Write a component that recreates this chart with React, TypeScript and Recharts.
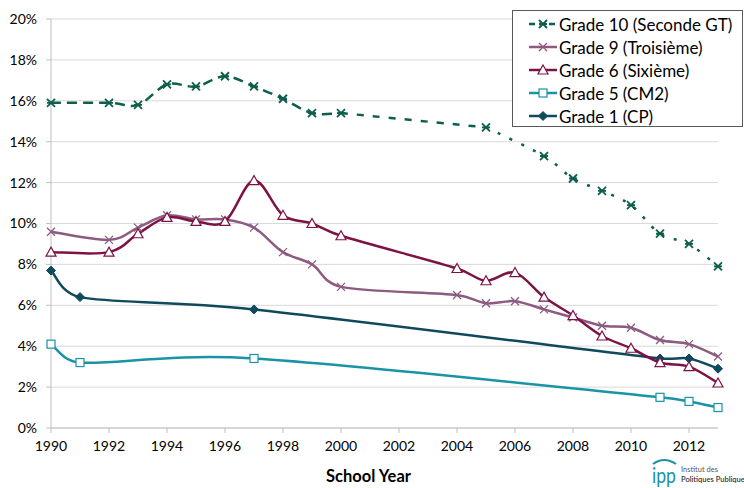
import React from "react";
import { LineChart, Line, XAxis, YAxis, CartesianGrid } from "recharts";

const years = [
  1990, 1991, 1992, 1993, 1994, 1995, 1996, 1997, 1998, 1999, 2000, 2001,
  2002, 2003, 2004, 2005, 2006, 2007, 2008, 2009, 2010, 2011, 2012, 2013,
];
const N = null;
const grade10 = [15.9, N, 15.9, 15.8, 16.8, 16.7, 17.2, 16.7, 16.1, 15.4, 15.4, N, N, N, N, 14.7, N, 13.3, 12.2, 11.6, 10.9, 9.5, 9.0, 7.9];
const grade9 = [9.6, N, 9.2, 9.8, 10.4, 10.2, 10.2, 9.8, 8.6, 8.0, 6.9, N, N, N, 6.5, 6.1, 6.2, 5.8, 5.4, 5.0, 4.9, 4.3, 4.1, 3.5];
const grade6 = [8.6, N, 8.6, 9.5, 10.3, 10.1, 10.1, 12.1, 10.4, 10.0, 9.4, N, N, N, 7.8, 7.2, 7.6, 6.4, 5.5, 4.5, 3.9, 3.2, 3.0, 2.2];
const grade5 = [4.1, 3.2, N, N, N, N, N, 3.4, N, N, N, N, N, N, N, N, N, N, N, N, N, 1.5, 1.3, 1.0];
const grade1 = [7.7, 6.4, N, N, N, N, N, 5.8, N, N, N, N, N, N, N, N, N, N, N, N, N, 3.4, 3.4, 2.9];

const xTicks = [1990, 1992, 1994, 1996, 1998, 2000, 2002, 2004, 2006, 2008, 2010, 2012];
const yTicks = [0, 2, 4, 6, 8, 10, 12, 14, 16, 18, 20];

const data = years.map((year, i) => ({
  year,
  g10a: year <= 2000 ? grade10[i] : null,
  g10b: year === 2000 || year === 2005 ? grade10[i] : null,
  g10c: year >= 2005 ? grade10[i] : null,
  g9: grade9[i],
  g6: grade6[i],
  g5: grade5[i],
  g1: grade1[i],
}));

const C10 = "#0d5e4c";
const C9 = "#8c5b7f";
const C6 = "#7d1244";
const C5 = "#1a93a5";
const C1 = "#0f4a5c";

const FONT = "Lato, 'Open Sans', sans-serif";

// excel-like smoothing: catmull-rom bezier with control arms capped at half the segment
const excelCurve = (ctx: any) => {
  let pts: number[][] = [];
  return {
    areaStart() {},
    areaEnd() {},
    lineStart() { pts = []; },
    point(x: number, y: number) { pts.push([+x, +y]); },
    lineEnd() {
      const n = pts.length;
      if (!n) return;
      ctx.moveTo(pts[0][0], pts[0][1]);
      if (n === 1) return;
      const tan = pts.map((p, i) => {
        const a = pts[Math.max(0, i - 1)];
        const b = pts[Math.min(n - 1, i + 1)];
        return [(b[0] - a[0]) / 6, (b[1] - a[1]) / 6];
      });
      const cap = (t: number[], len: number) => {
        const l = Math.hypot(t[0], t[1]);
        const m = len / 2;
        return l > m && l > 0 ? [(t[0] * m) / l, (t[1] * m) / l] : t;
      };
      for (let i = 0; i < n - 1; i++) {
        const p1 = pts[i], p2 = pts[i + 1];
        const seg = Math.hypot(p2[0] - p1[0], p2[1] - p1[1]);
        const t1 = cap(tan[i], seg);
        const t2 = cap(tan[i + 1], seg);
        ctx.bezierCurveTo(p1[0] + t1[0], p1[1] + t1[1], p2[0] - t2[0], p2[1] - t2[1], p2[0], p2[1]);
      }
    },
  };
};

type Shape = "star" | "x" | "tri" | "sq" | "dia";

function Marker({ shape, color, x, y }: { shape: Shape; color: string; x: number; y: number }) {
  const s = 4;
  if (shape === "star")
    return (
      <path
        d={`M${x - s},${y - s}L${x + s},${y + s}M${x - s},${y + s}L${x + s},${y - s}M${x - s},${y}H${x + s}`}
        stroke={color} strokeWidth={1.8} fill="none"
      />
    );
  if (shape === "x")
    return (
      <path d={`M${x - s},${y - s}L${x + s},${y + s}M${x - s},${y + s}L${x + s},${y - s}`} stroke={color} strokeWidth={1.3} fill="none" />
    );
  if (shape === "tri")
    return <path d={`M${x},${y - 5}L${x + 5},${y + 4}L${x - 5},${y + 4}Z`} stroke={color} strokeWidth={1.2} fill="#fff" />;
  if (shape === "sq")
    return <rect x={x - 4} y={y - 4} width={8} height={8} stroke={color} strokeWidth={1.2} fill="#fff" />;
  return <path d={`M${x},${y - 4.5}L${x + 4.5},${y}L${x},${y + 4.5}L${x - 4.5},${y}Z`} fill={color} stroke={color} strokeWidth={1} />;
}

const makeDot = (shape: Shape, color: string) => (p: any) => {
  const { cx, cy, index, value } = p;
  if (cx == null || cy == null || value == null) return <g key={`e${index}`} />;
  return <Marker key={`m${index}`} shape={shape} color={color} x={cx} y={cy} />;
};

const legendItems: { label: string; color: string; shape: Shape; dash?: string }[] = [
  { label: "Grade 10 (Seconde GT)", color: C10, shape: "star", dash: "6 4" },
  { label: "Grade 9 (Troisième)", color: C9, shape: "x" },
  { label: "Grade 6 (Sixième)", color: C6, shape: "tri" },
  { label: "Grade 5 (CM2)", color: C5, shape: "sq" },
  { label: "Grade 1 (CP)", color: C1, shape: "dia" },
];

function LegendBox() {
  return (
    <div
      style={{
        position: "absolute", left: 512, top: 10, width: 231, height: 117,
        border: "1px solid #595959", background: "#fff", boxSizing: "border-box",
        fontFamily: FONT, fontSize: 17, color: "#000",
      }}
    >
      {legendItems.map((it, i) => (
        <div key={it.label} style={{ position: "absolute", left: 14, top: 2 + i * 23, height: 22, display: "flex", alignItems: "center" }}>
          <svg width={32} height={22} style={{ display: "block" }}>
            <line x1={2} x2={30} y1={11} y2={11} stroke={it.color} strokeWidth={2.5} strokeDasharray={it.dash} />
            <Marker shape={it.shape} color={it.color} x={16} y={11} />
          </svg>
          <span style={{ whiteSpace: "nowrap" }}>{it.label}</span>
        </div>
      ))}
    </div>
  );
}

function Logo() {
  return (
    <svg width={100} height={34} style={{ position: "absolute", left: 645, top: 455 }}>
      <path d="M8,9 Q19,1 31,9" stroke={C5} strokeWidth={2} fill="none" />
      <text x={7} y={28} fontFamily={FONT} fontSize={22} fill={C5} textLength={24} lengthAdjust="spacingAndGlyphs">ipp</text>
      <text x={36} y={17} fontFamily={FONT} fontSize={7.5} fill="#555">Institut des</text>
      <text x={36} y={27} fontFamily={FONT} fontSize={7.5} fill="#333" fontWeight={600}>Politiques Publique</text>
    </svg>
  );
}

export default function App() {
  const tick = { fontSize: 14, fill: "#000", fontFamily: FONT };
  return (
    <div style={{ position: "fixed", left: 0, top: 0, width: 744, height: 488, background: "#fff", overflow: "hidden" }}>
      <LineChart width={744} height={488} data={data} margin={{ top: 19, right: 26, bottom: 0, left: 0 }}>
        <CartesianGrid vertical={false} stroke="#d9d9d9" strokeWidth={1} />
        <XAxis
          dataKey="year" type="number" domain={[1990, 2013]} ticks={xTicks}
          tick={tick} tickSize={5} tickMargin={8} height={60}
          axisLine={{ stroke: "#bfbfbf" }} tickLine={{ stroke: "#bfbfbf" }}
          label={{ value: "School Year", position: "insideBottom", offset: 6, dx: -16, style: { fontSize: 16.5, fontWeight: 700, fill: "#000", fontFamily: FONT } }}
        />
        <YAxis
          type="number" domain={[0, 20]} ticks={yTicks} width={51}
          tick={tick} tickSize={5} tickMargin={9}
          tickFormatter={(v) => `${v}%`}
          axisLine={{ stroke: "#bfbfbf" }} tickLine={{ stroke: "#bfbfbf" }}
        />
        <Line dataKey="g1" type={excelCurve as any} stroke={C1} strokeWidth={2.5} connectNulls dot={makeDot("dia", C1)} activeDot={false} isAnimationActive={false} />
        <Line dataKey="g5" type={excelCurve as any} stroke={C5} strokeWidth={2.5} connectNulls dot={makeDot("sq", C5)} activeDot={false} isAnimationActive={false} />
        <Line dataKey="g9" type={excelCurve as any} stroke={C9} strokeWidth={2.5} connectNulls dot={makeDot("x", C9)} activeDot={false} isAnimationActive={false} />
        <Line dataKey="g6" type={excelCurve as any} stroke={C6} strokeWidth={2.5} connectNulls dot={makeDot("tri", C6)} activeDot={false} isAnimationActive={false} />
        <Line dataKey="g10b" type={excelCurve as any} stroke={C10} strokeWidth={2.5} strokeDasharray="7 9" connectNulls dot={false} activeDot={false} isAnimationActive={false} />
        <Line dataKey="g10a" type={excelCurve as any} stroke={C10} strokeWidth={2.5} strokeDasharray="10 6" connectNulls dot={makeDot("star", C10)} activeDot={false} isAnimationActive={false} />
        <Line dataKey="g10c" type={excelCurve as any} stroke={C10} strokeWidth={2.5} strokeDasharray="3 10" connectNulls dot={makeDot("star", C10)} activeDot={false} isAnimationActive={false} />
      </LineChart>
      <LegendBox />
      <Logo />
    </div>
  );
}
